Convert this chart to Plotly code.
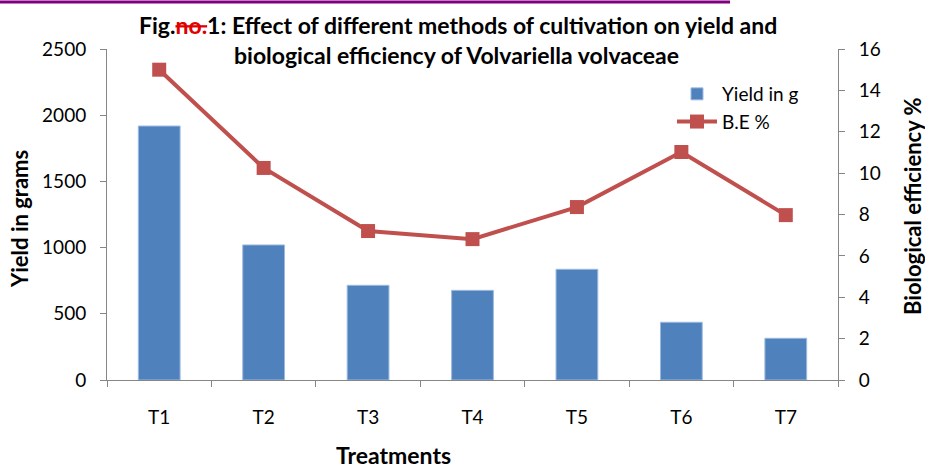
import plotly.graph_objects as go

treatments = ["T1", "T2", "T3", "T4", "T5", "T6", "T7"]
yield_g = [1918, 1020, 715, 677, 836, 436, 315]
be_pct = [15.0, 10.25, 7.2, 6.81, 8.36, 11.02, 7.97]

left_ticks = [0, 500, 1000, 1500, 2000, 2500]
right_ticks = [0, 2, 4, 6, 8, 10, 12, 14, 16]

FONT = "Lato"
W, H = 925, 469
L, R, T, B = 107, 87, 49, 89
pw, ph = W - L - R, H - T - B

def px_x(x):
    return (x - L) / pw

def px_y(y):
    return (H - B - y) / ph

fig = go.Figure()
fig.add_trace(go.Bar(
    x=treatments, y=yield_g, name="Yield in g",
    marker=dict(color="#4F81BD", line=dict(color="#9DB9E0", width=1)),
    width=0.4, yaxis="y",
))
fig.add_trace(go.Scatter(
    x=treatments, y=be_pct, name="B.E %", mode="lines+markers",
    line=dict(color="#C0504D", width=4),
    marker=dict(symbol="square", size=14, color="#C0504D"),
    yaxis="y2",
))

axis_line = "#868686"
TICK = 19
fig.update_layout(
    width=W, height=H,
    margin=dict(l=L, r=R, t=T, b=B),
    paper_bgcolor="white", plot_bgcolor="white",
    font=dict(family=FONT, size=TICK, color="#000000"),
    showlegend=True,
    legend=dict(x=px_x(672), y=px_y(75), xanchor="left", yanchor="top",
                bgcolor="rgba(0,0,0,0)", font=dict(size=19, family=FONT),
                itemwidth=40, tracegroupgap=0),
    bargap=0.6,
    xaxis=dict(
        type="category", showline=True, linecolor=axis_line, linewidth=1,
        ticks="outside", tickson="boundaries", ticklen=6, tickcolor=axis_line,
        ticklabelstandoff=20, showgrid=False, zeroline=False,
        tickfont=dict(size=TICK, family=FONT),
    ),
    yaxis=dict(
        range=[0, 2500], tickvals=left_ticks, showline=True, linecolor=axis_line,
        ticks="outside", ticklen=6, tickcolor=axis_line, showgrid=False,
        zeroline=False, tickfont=dict(size=TICK, family=FONT),
        ticklabelstandoff=10,
    ),
    yaxis2=dict(
        range=[0, 16], tickvals=right_ticks, overlaying="y", side="right",
        showline=True, linecolor=axis_line, ticks="outside", ticklen=6,
        tickcolor=axis_line, showgrid=False, zeroline=False,
        tickfont=dict(size=TICK, family=FONT), ticklabelstandoff=10,
    ),
)

def note(text, x, y, size, angle=0):
    fig.add_annotation(text=text, showarrow=False, xref="paper", yref="paper",
                       x=px_x(x), y=px_y(y), xanchor="center", yanchor="middle",
                       textangle=angle, font=dict(size=size, family=FONT, color="#000000"))

TITLE_SIZE = 23
title_line1 = "<b>Fig.<span style='color:#E00000'><s>no.</s></span>1: Effect of different methods of cultivation on yield and</b>"
title_line2 = "<b>biological efficiency of Volvariella volvaceae</b>"
note(title_line1, 458, 25, TITLE_SIZE)
note(title_line2, 456, 55, TITLE_SIZE)
note("<b>Yield in grams</b>", 20, 219, 22, -90)
note("<b>Biological efficiency %</b>", 912, 206, 22, -90)
note("<b>Treatments</b>", 393, 455, 23)

# page artifact: purple rule at top
fig.add_shape(type="line", xref="paper", yref="paper",
              x0=px_x(0), x1=px_x(730), y0=px_y(2), y1=px_y(2),
              line=dict(color="#800080", width=3))

fig.write_html("out.html", config={"displayModeBar": False},
               post_script="document.body.style.margin='0';")
